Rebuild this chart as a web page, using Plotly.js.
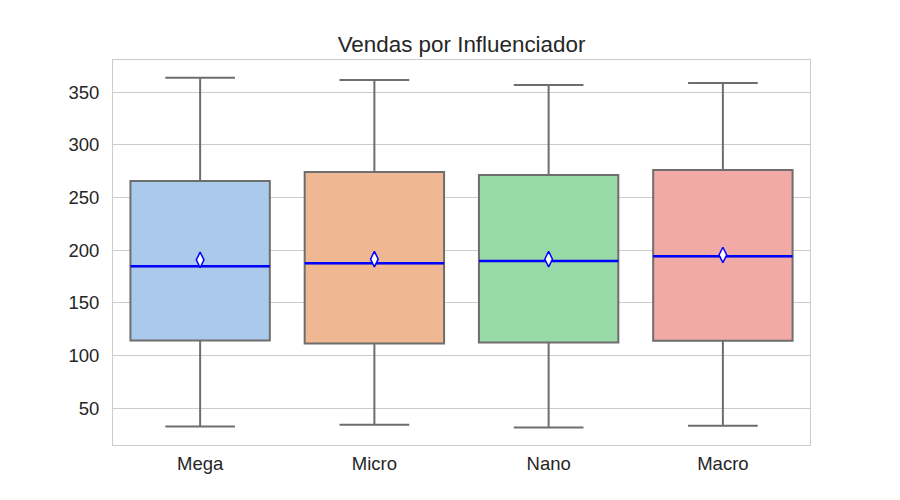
<!DOCTYPE html>
<html>
<head>
<meta charset="utf-8">
<script src="https://cdn.plot.ly/plotly-3.0.1.min.js"></script>
<style>html,body{margin:0;padding:0;background:#fff}#chart{width:900px;height:500px}</style>
</head>
<body>
<div id="chart"></div>
<script>
const categories = ["Mega", "Micro", "Nano", "Macro"];
const lowerWhisker = [32.5, 34.1, 31.6, 33.2];
const q1Values = [114.2, 111.3, 112.3, 113.9];
const medianValues = [184.8, 187.7, 189.8, 194.3];
const q3Values = [265.8, 274.3, 271.5, 276.2];
const upperWhisker = [363.9, 361.7, 357.0, 358.9];
const meanValues = [190.8, 191.5, 191.5, 195.5];
const boxColors = ["#abc9ea", "#efb792", "#98daa7", "#f2aaa7"];
const yTicks = [50, 100, 150, 200, 250, 300, 350];

const BOX_W = 0.8;
const traces = [];
categories.forEach((c, i) => {
  traces.push({
    type: "box",
    name: c,
    x: [i],
    q1: [q1Values[i]],
    median: [medianValues[i]],
    q3: [q3Values[i]],
    lowerfence: [lowerWhisker[i]],
    upperfence: [upperWhisker[i]],
    width: BOX_W,
    whiskerwidth: 0.5,
    boxpoints: false,
    fillcolor: boxColors[i],
    line: { color: "#6e6e6e", width: 2 },
    showlegend: false,
    hoverinfo: "skip"
  });
});

const medX = [], medY = [];
categories.forEach((c, i) => {
  medX.push(i - BOX_W / 2, i + BOX_W / 2, null);
  medY.push(medianValues[i], medianValues[i], null);
});
traces.push({
  type: "scatter", mode: "lines", x: medX, y: medY,
  line: { color: "#0000ff", width: 2.5 }, showlegend: false, hoverinfo: "skip"
});
traces.push({
  type: "scatter", mode: "markers",
  x: categories.map((c, i) => i), y: meanValues,
  marker: { symbol: "diamond-tall", size: 11, color: "#ffffff", line: { color: "#0000ff", width: 1.5 } },
  showlegend: false, hoverinfo: "skip"
});

const layout = {
  width: 900, height: 500,
  margin: { l: 113, r: 90, t: 60, b: 55 },
  paper_bgcolor: "#ffffff", plot_bgcolor: "#ffffff",
  font: { family: "Liberation Sans, Arial, sans-serif", color: "#262626", size: 18.5 },
  title: { text: "Vendas por Influenciador", font: { size: 22.4, color: "#262626" }, x: 0.5128, xanchor: "center", yref: "container", y: 0.912, yanchor: "middle" },
  boxmode: "overlay",
  showlegend: false,
  xaxis: {
    range: [-0.5, 3.5], tickmode: "array", tickvals: categories.map((c, i) => i), ticktext: categories,
    showgrid: false, zeroline: false, showline: true, mirror: true, linecolor: "#cccccc", linewidth: 1,
    ticks: "", ticklabelstandoff: 2, tickfont: { size: 18.5 }
  },
  yaxis: {
    range: [14.9, 380.7], tickmode: "array", tickvals: yTicks,
    showgrid: true, gridcolor: "#cccccc", gridwidth: 1, zeroline: false,
    showline: true, mirror: true, linecolor: "#cccccc", linewidth: 1,
    ticks: "", ticklabelstandoff: 9, tickfont: { size: 18.5 }
  }
};
Plotly.newPlot("chart", traces, layout, { staticPlot: true, displayModeBar: false });
</script>
</body>
</html>
